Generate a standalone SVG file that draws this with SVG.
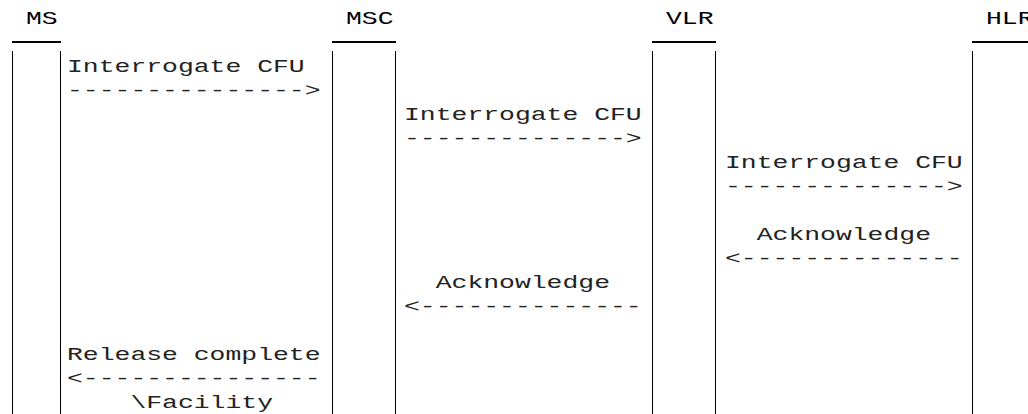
<svg xmlns="http://www.w3.org/2000/svg" width="1028" height="414" viewBox="0 0 1028 414">
<style>
  text { font-family: "Liberation Mono", "Courier New", monospace; font-size: 19px; white-space: pre; }
  .hdr { fill: #000; }
  .msg { fill: #222; }
  .life { stroke: #000; stroke-width: 1; fill: none; }
  .bar { fill: #000; }
</style>
<rect width="1028" height="414" fill="#fff"/>
<g id="node-ms">
  <text class="hdr" transform="translate(26,24) scale(1.39,1)">MS</text>
  <rect class="bar" x="12" y="41" width="49" height="2"/>
  <line class="life" x1="12.5" y1="51" x2="12.5" y2="414"/>
  <line class="life" x1="60.5" y1="51" x2="60.5" y2="414"/>
</g>
<g id="node-msc">
  <text class="hdr" transform="translate(346,24) scale(1.39,1)">MSC</text>
  <rect class="bar" x="332" y="41" width="64" height="2"/>
  <line class="life" x1="332.5" y1="51" x2="332.5" y2="414"/>
  <line class="life" x1="395.5" y1="51" x2="395.5" y2="414"/>
</g>
<g id="node-vlr">
  <text class="hdr" transform="translate(666,24) scale(1.39,1)">VLR</text>
  <rect class="bar" x="652" y="41" width="64" height="2"/>
  <line class="life" x1="652.5" y1="51" x2="652.5" y2="414"/>
  <line class="life" x1="715.5" y1="51" x2="715.5" y2="414"/>
</g>
<g id="node-hlr">
  <text class="hdr" transform="translate(986,24) scale(1.39,1)">HLR</text>
  <rect class="bar" x="972" y="41" width="56" height="2"/>
  <line class="life" x1="972.5" y1="51" x2="972.5" y2="414"/>
</g>
<g id="connectors">
  <text class="msg" transform="translate(67,72) scale(1.39,1)">Interrogate CFU</text>
  <text class="msg" transform="translate(67,96) scale(1.39,1)">---------------&gt;</text>
  <text class="msg" transform="translate(404,120) scale(1.39,1)">Interrogate CFU</text>
  <text class="msg" transform="translate(404,144) scale(1.39,1)">--------------&gt;</text>
  <text class="msg" transform="translate(725,168) scale(1.39,1)">Interrogate CFU</text>
  <text class="msg" transform="translate(725,192) scale(1.39,1)">--------------&gt;</text>
  <text class="msg" transform="translate(725,240) scale(1.39,1)">  Acknowledge</text>
  <text class="msg" transform="translate(725,264) scale(1.39,1)">&lt;--------------</text>
  <text class="msg" transform="translate(404,288) scale(1.39,1)">  Acknowledge</text>
  <text class="msg" transform="translate(404,312) scale(1.39,1)">&lt;--------------</text>
  <text class="msg" transform="translate(67,360) scale(1.39,1)">Release complete</text>
  <text class="msg" transform="translate(67,384) scale(1.39,1)">&lt;---------------</text>
  <text class="msg" transform="translate(67,408) scale(1.39,1)">    \Facility</text>
</g>
</svg>
